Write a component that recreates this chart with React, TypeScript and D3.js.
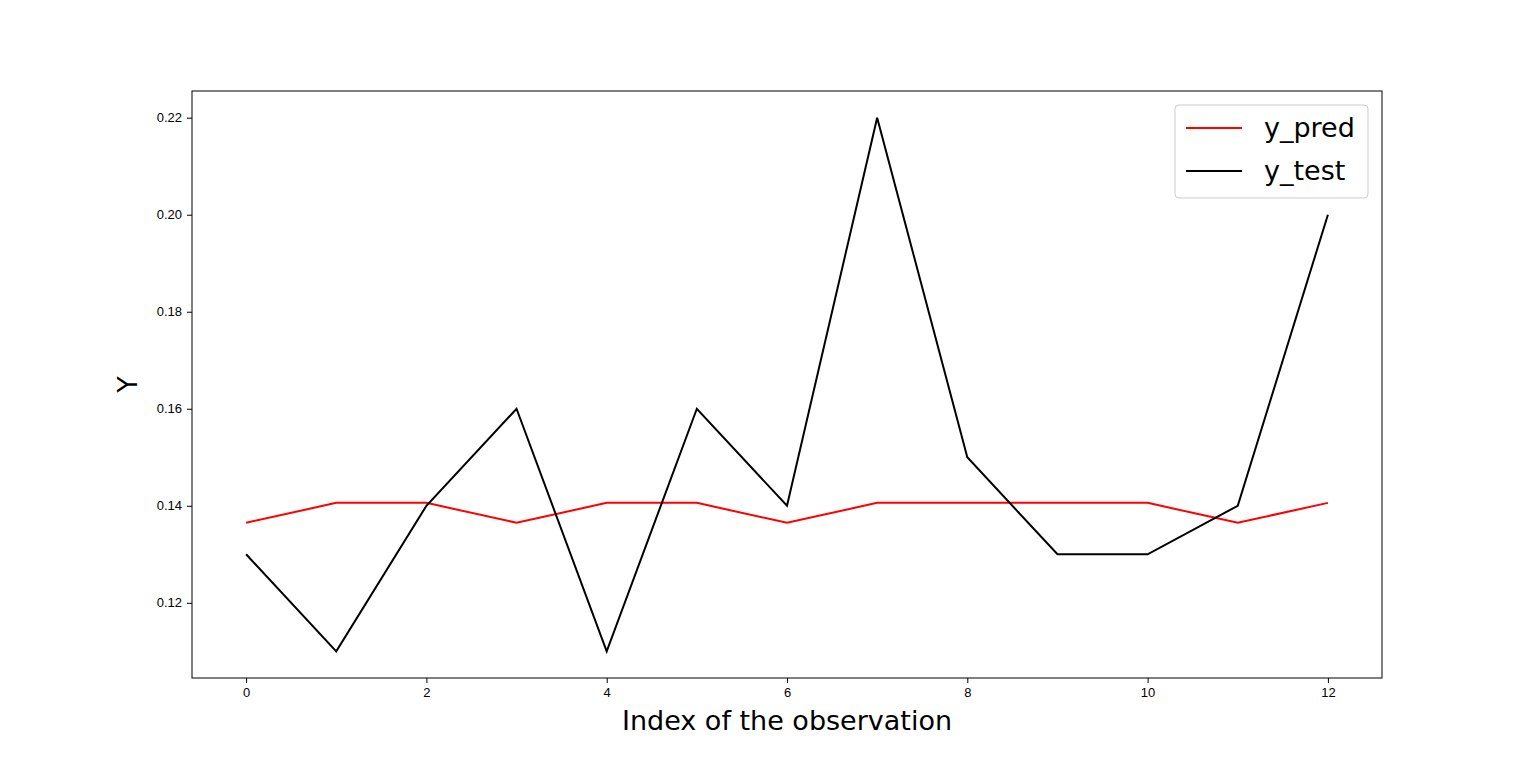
import { useEffect, useRef } from "react";
import * as d3 from "d3";

const indices = [0, 1, 2, 3, 4, 5, 6, 7, 8, 9, 10, 11, 12];
const yPred = [0.1365, 0.1406, 0.1406, 0.1365, 0.1406, 0.1406, 0.1365, 0.1406, 0.1406, 0.1406, 0.1406, 0.1365, 0.1406];
const yTest = [0.13, 0.11, 0.14, 0.16, 0.11, 0.16, 0.14, 0.22, 0.15, 0.13, 0.13, 0.14, 0.2];
const xTicks = [0, 2, 4, 6, 8, 10, 12];
const yTicks = [0.12, 0.14, 0.16, 0.18, 0.2, 0.22];
const series = [
  { name: "y_pred", values: yPred, color: "red" },
  { name: "y_test", values: yTest, color: "black" },
];

const App = () => {
  const svgRef = useRef<SVGSVGElement | null>(null);
  const width = 1536;
  const height = 762;

  useEffect(() => {
    if (!svgRef.current) return;
    const svg = d3.select(svgRef.current);
    svg.selectAll("*").remove();
    svg.style("font-family", "DejaVu Sans");

    const margin = { top: 91, right: 154, bottom: 84, left: 192 };
    const x = d3.scaleLinear().domain([-0.6, 12.6]).range([margin.left, width - margin.right]);
    const y = d3.scaleLinear().domain([0.1045, 0.2255]).range([height - margin.bottom, margin.top]);

    svg.append("rect").attr("width", width).attr("height", height).attr("fill", "white");

    const xAxis = svg
      .append("g")
      .attr("transform", `translate(0,${height - margin.bottom})`)
      .call(d3.axisBottom(x).tickValues(xTicks).tickSize(5).tickPadding(5).tickFormat(d3.format("d")));
    xAxis.selectAll("text").attr("font-size", 13).attr("fill", "black");

    const yAxis = svg
      .append("g")
      .attr("transform", `translate(${margin.left},0)`)
      .call(d3.axisLeft(y).tickValues(yTicks).tickSize(5).tickPadding(5).tickFormat(d3.format(".2f")));
    yAxis.selectAll("text").attr("font-size", 13).attr("fill", "black");
    svg.selectAll(".domain").remove();

    const line = d3
      .line<number>()
      .x((_, i) => x(indices[i]))
      .y((d) => y(d));

    series.forEach((s) => {
      svg
        .append("path")
        .datum(s.values)
        .attr("fill", "none")
        .attr("stroke", s.color)
        .attr("stroke-width", 2)
        .attr("d", line);
    });

    svg
      .append("rect")
      .attr("x", margin.left)
      .attr("y", margin.top)
      .attr("width", width - margin.left - margin.right)
      .attr("height", height - margin.top - margin.bottom)
      .attr("fill", "none")
      .attr("stroke", "black")
      .attr("stroke-width", 1);

    svg
      .append("text")
      .attr("x", (margin.left + width - margin.right) / 2)
      .attr("y", 730)
      .attr("text-anchor", "middle")
      .attr("font-size", 27)
      .text("Index of the observation");

    svg
      .append("text")
      .attr("transform", `translate(137,${(margin.top + height - margin.bottom) / 2}) rotate(-90)`)
      .attr("text-anchor", "middle")
      .attr("font-size", 27)
      .text("Y");

    const legend = svg.append("g");
    legend
      .append("rect")
      .attr("x", 1175)
      .attr("y", 105)
      .attr("width", 193)
      .attr("height", 93)
      .attr("rx", 4)
      .attr("fill", "white")
      .attr("stroke", "#cccccc");
    series.forEach((s, i) => {
      const cy = 128 + i * 43;
      legend
        .append("line")
        .attr("x1", 1186)
        .attr("x2", 1242)
        .attr("y1", cy)
        .attr("y2", cy)
        .attr("stroke", s.color)
        .attr("stroke-width", 2);
      legend
        .append("text")
        .attr("x", 1264)
        .attr("y", cy + 9)
        .attr("font-size", 27)
        .text(s.name);
    });
  }, []);

  return (
    <svg
      ref={svgRef}
      width={width}
      height={height}
      style={{ position: "absolute", left: 0, top: 0 }}
    />
  );
};

export default App;
